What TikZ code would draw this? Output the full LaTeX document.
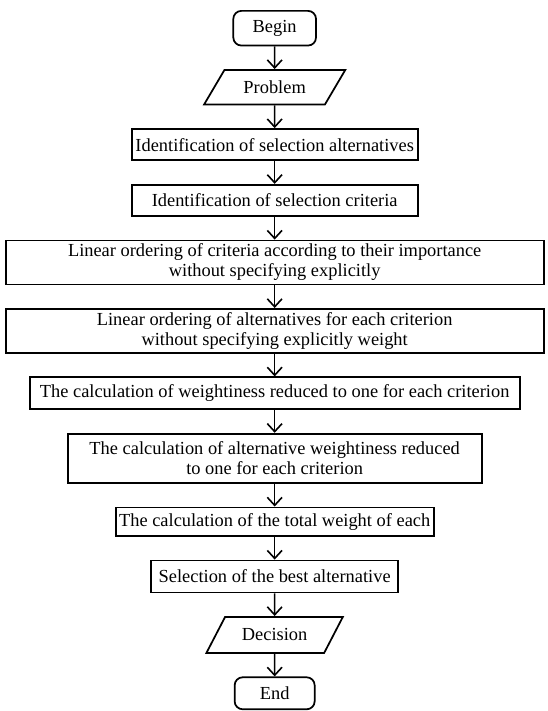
\documentclass[tikz,border=0pt]{standalone}
\usepackage{fontspec}
\setmainfont{Liberation Serif}
\usetikzlibrary{positioning,shapes.geometric,arrows.meta}

\begin{document}
\begin{tikzpicture}[line width=1.3pt, node distance=17pt,
  every node/.style={font=\fontsize{13.8}{15}\selectfont, align=center, inner sep=2pt},
  term/.style={draw, rounded corners=6pt, minimum height=26pt},
  io/.style={draw, trapezium, trapezium left angle=53, trapezium right angle=127,
    trapezium stretches=true, minimum height=26pt},
  box/.style={draw, minimum height=23.5pt},
  flow/.style={-{Straight Barb[length=6pt,width=11pt]}, line width=1.2pt}]
 \useasboundingbox (0,0) rectangle (410.25pt,-533.25pt);
 \node [term, anchor=north, minimum width=62pt] (begin) at (206pt,-7.5pt) {Begin};
 \node [io, below=of begin, minimum width=106pt] (problem) {Problem};
 \node [box, below=of problem, minimum width=214.5pt] (idalt) {Identification of selection alternatives};
 \node [box, below=of idalt, minimum width=214.5pt] (idcrit) {Identification of selection criteria};
 \node [box, below=of idcrit, minimum width=403.5pt, minimum height=33pt] (ordcrit)
   {Linear ordering of criteria according to their importance\\ without specifying explicitly};
 \node [box, below=of ordcrit, minimum width=403.5pt, minimum height=33pt] (ordalt)
   {Linear ordering of alternatives for each criterion\\ without specifying explicitly weight};
 \node [box, below=of ordalt, minimum width=367.5pt, minimum height=24pt] (wcrit)
   {The calculation of weightiness reduced to one for each criterion};
 \node [box, below=of wcrit, minimum width=310.5pt, minimum height=37pt] (walt)
   {The calculation of alternative weightiness reduced\\ to one for each criterion};
 \node [box, below=of walt, minimum width=238.5pt, minimum height=21.5pt] (total)
   {The calculation of the total weight of each};
 \node [box, below=of total, minimum width=185pt, minimum height=24pt] (best)
   {Selection of the best alternative};
 \node [io, below=of best, minimum width=103pt, minimum height=27pt] (decision) {Decision};
 \node [term, below=of decision, minimum width=60pt, minimum height=24pt] (end) {End};
 \path [flow]
  (begin) edge (problem)
  (problem) edge (idalt)
  (idalt) edge (idcrit)
  (idcrit) edge (ordcrit)
  (ordcrit) edge (ordalt)
  (ordalt) edge (wcrit)
  (wcrit) edge (walt)
  (walt) edge (total)
  (total) edge (best)
  (best) edge (decision)
  (decision) edge (end);
\end{tikzpicture}
\end{document}
